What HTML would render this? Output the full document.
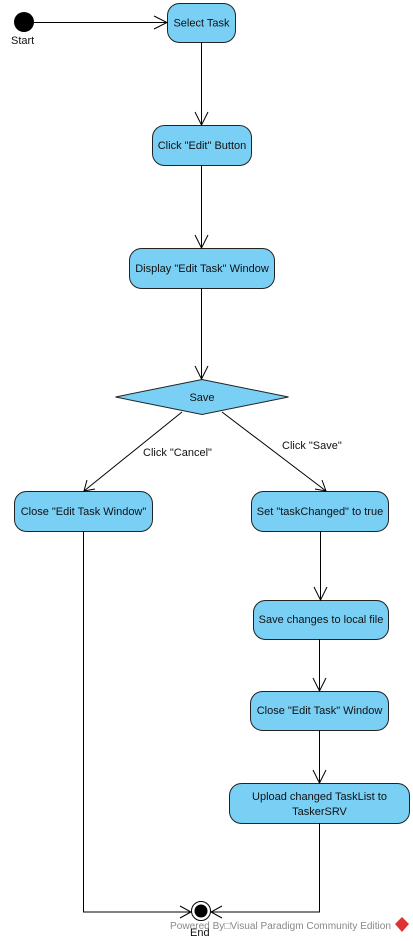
<!DOCTYPE html>
<html><head><style>
html,body{margin:0;padding:0;background:#fff;width:413px;height:941px;overflow:hidden}
svg text{font-family:"Liberation Sans",Arial,sans-serif;font-size:11px;fill:#111}
</style></head><body>
<svg width="413" height="941" viewBox="0 0 413 941" xmlns="http://www.w3.org/2000/svg">
<g fill="#7acff5" stroke="#222" stroke-width="1">
<rect x="167.5" y="3.5" width="68" height="39" rx="12"/>
<rect x="152.5" y="125.5" width="99" height="40" rx="12"/>
<rect x="129.5" y="248.5" width="145" height="40" rx="12"/>
<polygon points="115.5,397 202,379.5 288.5,397 202,414.5"/>
<rect x="14.5" y="491.5" width="138" height="40" rx="12"/>
<rect x="251.5" y="491.5" width="137" height="40" rx="12"/>
<rect x="253.5" y="600.5" width="135" height="39" rx="12"/>
<rect x="250.5" y="691.5" width="138" height="39" rx="12"/>
<rect x="229.5" y="783.5" width="180" height="40" rx="12"/>
</g>
<circle cx="24" cy="22" r="10" fill="#000"/>
<circle cx="201" cy="911" r="9.5" fill="#fff" stroke="#000" stroke-width="1"/>
<circle cx="201" cy="911" r="6.5" fill="#000"/>
<g stroke="#000" stroke-width="1" fill="none">
<line x1="34" y1="22.5" x2="167" y2="22.5"/>
<polyline points="154,16 167,22.5 154,29"/>
<line x1="201.5" y1="42" x2="201.5" y2="125"/>
<polyline points="195,112 201.5,125 208,112"/>
<line x1="201.5" y1="165" x2="201.5" y2="248"/>
<polyline points="195,235 201.5,248 208,235"/>
<line x1="201.5" y1="288" x2="201.5" y2="379"/>
<polyline points="195,366 201.5,379 208,366"/>
<line x1="182" y1="412" x2="84" y2="491"/>
<polyline points="87,480 84,491 95,489"/>
<line x1="222" y1="412" x2="326" y2="491"/>
<polyline points="315,489 326,491 322,480"/>
<line x1="320.5" y1="531" x2="320.5" y2="600"/>
<polyline points="314,587 320.5,600 327,587"/>
<line x1="319.5" y1="639" x2="319.5" y2="691"/>
<polyline points="313,678 319.5,691 326,678"/>
<line x1="319.5" y1="730" x2="319.5" y2="783"/>
<polyline points="313,770 319.5,783 326,770"/>
<polyline points="83.5,531 83.5,912 191,912"/>
<polyline points="180,906 191,912 180,918"/>
<polyline points="319.5,823 319.5,912 211,912"/>
<polyline points="222,906 211,912 222,918"/>
</g>
<text x="11" y="44">Start</text>
<text x="201.5" y="26.5" text-anchor="middle">Select Task</text>
<text x="202" y="149" text-anchor="middle">Click "Edit" Button</text>
<text x="202" y="272" text-anchor="middle">Display "Edit Task" Window</text>
<text x="202" y="401" text-anchor="middle">Save</text>
<text x="143" y="456">Click "Cancel"</text>
<text x="282" y="449">Click "Save"</text>
<text x="83.5" y="515" text-anchor="middle">Close "Edit Task Window"</text>
<text x="320" y="515" text-anchor="middle">Set "taskChanged" to true</text>
<text x="321" y="623" text-anchor="middle">Save changes to local file</text>
<text x="319.5" y="714" text-anchor="middle">Close "Edit Task" Window</text>
<text x="319.5" y="800" text-anchor="middle">Upload changed TaskList to</text>
<text x="319.5" y="815" text-anchor="middle">TaskerSRV</text>
<text x="190" y="936">End</text>
<text x="170" y="929" textLength="221" lengthAdjust="spacingAndGlyphs" style="fill:#888;font-size:10px">Powered By□Visual Paradigm Community Edition</text>
<polygon points="402,917 409,924 402,932 395,924" fill="#d33"/>
</svg>
</body></html>
